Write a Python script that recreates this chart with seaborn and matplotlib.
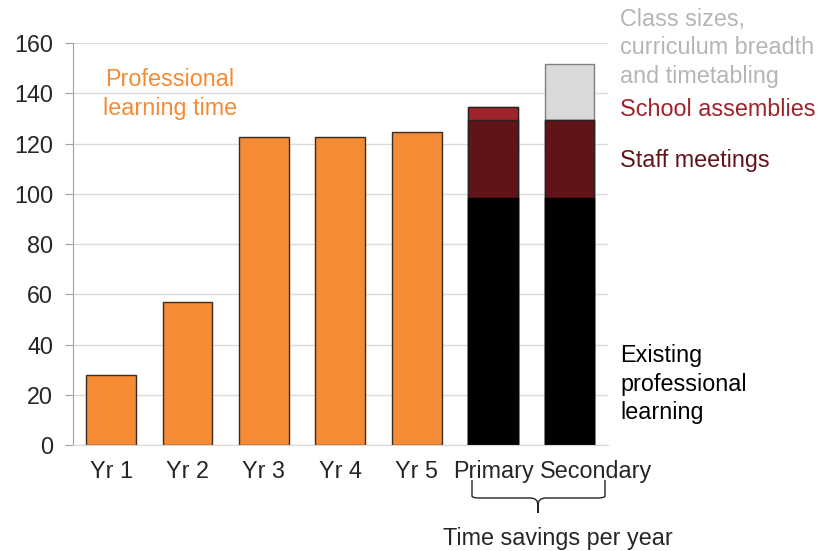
import numpy as np
import pandas as pd
import seaborn as sns
import matplotlib.pyplot as plt
import matplotlib.transforms as mtransforms
from matplotlib.path import Path
from matplotlib.patches import PathPatch

# Datos
categories = ['Yr 1', 'Yr 2', 'Yr 3', 'Yr 4', 'Yr 5', 'Primary', 'Secondary']
learning_cats = ['Yr 1', 'Yr 2', 'Yr 3', 'Yr 4', 'Yr 5']
learning_time = [28, 57, 122.5, 122.5, 124.5]

savings_cats = ['Primary', 'Secondary']
existing = [98.5, 98.5]
staff_meetings = [31, 31]
assemblies = [5, 0]
class_sizes = [0, 22]

sns.set_style('white')
plt.rcParams['font.family'] = ['Liberation Sans', 'DejaVu Sans']

fig = plt.figure(figsize=(8.18, 5.51), dpi=100)
ax = fig.add_axes([0.089, 0.192, 0.654, 0.730])

orange = '#F58B34'
dark_red = '#621317'
red = '#A0232A'
light_gray = '#D9D9D9'

df_learn = pd.DataFrame({'cat': learning_cats, 'val': learning_time})
sns.barplot(data=df_learn, x='cat', y='val', order=categories, color=orange,
            width=0.65, edgecolor='#3a2a20', linewidth=1, saturation=1, ax=ax)

# barras apiladas: se dibuja del total hacia abajo
layers = [existing, staff_meetings, assemblies, class_sizes]
layer_colors = [('black', 'black'), (dark_red, '#222222'), (red, '#222222'), (light_gray, '#7f7f7f')]
cum = np.cumsum(np.array(layers), axis=0)
for i in range(len(layers) - 1, -1, -1):
    df_s = pd.DataFrame({'cat': savings_cats, 'val': cum[i]})
    sns.barplot(data=df_s, x='cat', y='val', order=categories, color=layer_colors[i][0],
                width=0.65, edgecolor=layer_colors[i][1], linewidth=1, saturation=1, ax=ax)

fs = 16.8
ax.set_xlim(-0.5, 6.5)
ax.set_ylim(0, 160)
ax.set_yticks(np.arange(0, 161, 20))
ax.set_xlabel('')
ax.set_ylabel('')
ax.yaxis.grid(True, color='#dcdcdc', linewidth=1)
ax.set_axisbelow(True)
for s in ['top', 'right']:
    ax.spines[s].set_visible(False)
ax.spines['left'].set_color('#a0a0a0')
ax.spines['bottom'].set_color('#d9d9d9')
ax.tick_params(axis='y', length=6, color='#a0a0a0', labelsize=fs, pad=8, left=True)
ax.tick_params(axis='x', length=0, labelsize=fs, pad=11)

# Secondary desplazado a la derecha como en el original
lab = ax.get_xticklabels()[-1]
lab.set_transform(lab.get_transform() + mtransforms.ScaledTranslation(26 / 100, 0, fig.dpi_scale_trans))

# Anotaciones
fig.text(170 / 818, 1 - 94 / 551, 'Professional\nlearning time', color=orange, fontsize=fs,
         ha='center', va='center', linespacing=1.33)
fig.text(620 / 818, 1 - 48 / 551, 'Class sizes,\ncurriculum breadth\nand timetabling', color='#b5b5b5',
         fontsize=fs, ha='left', va='center', linespacing=1.33)
fig.text(620 / 818, 1 - 110 / 551, 'School assemblies', color=red, fontsize=fs, ha='left', va='center')
fig.text(620 / 818, 1 - 160 / 551, 'Staff meetings', color=dark_red, fontsize=fs, ha='left', va='center')
fig.text(620 / 818, 1 - 384 / 551, 'Existing\nprofessional\nlearning', color='black', fontsize=fs,
         ha='left', va='center', linespacing=1.33)

# Llave bajo Primary / Secondary
W, H = 818, 551
def fp(x, y):
    return (x / W, 1 - y / H)
verts = [fp(472, 480), fp(472, 496), fp(472, 498), fp(480, 498),
         fp(530, 498), fp(538, 498), fp(538, 505), fp(538, 513),
         fp(538, 505), fp(538, 498), fp(546, 498),
         fp(597, 498), fp(605, 498), fp(605, 496), fp(605, 480)]
codes = [Path.MOVETO, Path.LINETO, Path.CURVE3, Path.CURVE3,
         Path.LINETO, Path.CURVE3, Path.CURVE3, Path.LINETO,
         Path.LINETO, Path.CURVE3, Path.CURVE3,
         Path.LINETO, Path.CURVE3, Path.CURVE3, Path.LINETO]
brace = PathPatch(Path(verts, codes), transform=fig.transFigure, fill=False,
                  edgecolor='#222222', linewidth=1)
fig.add_artist(brace)
fig.text(558 / 818, 1 - 538 / 551, 'Time savings per year', fontsize=fs, ha='center', va='center')

fig.savefig('out.png', dpi=100)
